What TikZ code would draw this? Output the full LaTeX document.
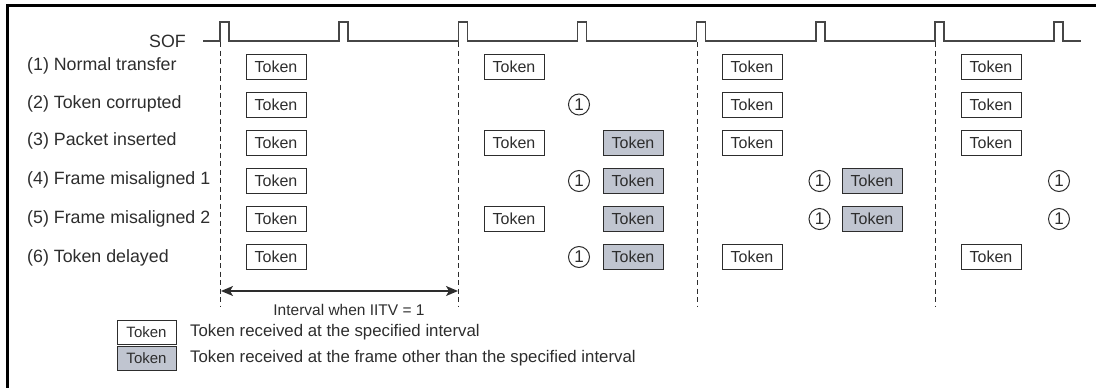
\documentclass[tikz,border=0pt]{standalone}
\usepackage{fontspec}
\setmainfont{Liberation Sans}
\usetikzlibrary{arrows.meta}
\definecolor{ink}{RGB}{45,45,45}
\definecolor{wave}{RGB}{70,70,70}
\definecolor{tokgray}{RGB}{192,197,208}
\tikzset{
  tok/.style={draw=ink, line width=1pt, minimum width=60pt, minimum height=25pt, inner sep=0pt, text=ink, font=\fontsize{16}{16}\selectfont},
  tokg/.style={tok, fill=tokgray},
  one/.style={draw=ink, line width=1pt, circle, minimum size=21pt, inner sep=0pt, text=ink, font=\fontsize{17}{17}\selectfont},
  rowlab/.style={anchor=west, text=ink, inner sep=0pt, font=\fontsize{17.8}{17.8}\selectfont},
  legtok/.style={draw=ink, line width=1pt, minimum width=59pt, minimum height=24pt, inner sep=0pt, text=ink, font=\fontsize{15}{15}\selectfont},
  legtext/.style={anchor=west, text=ink, inner sep=0pt, font=\fontsize{16.8}{16.8}\selectfont},
  divider/.style={draw=ink, line width=0.9pt, dash pattern=on 5pt off 3.5pt}
}
\begin{document}
\begin{tikzpicture}[x=1pt,y=-1pt]
\useasboundingbox (0,0) rectangle (1096,388);
% frame
\draw[line width=2.2pt] (7.5,388) -- (7.5,5.5) -- (1096,5.5);
% SOF waveform
\node[anchor=east, text=ink, inner sep=0pt, font=\fontsize{17.8}{17.8}\selectfont] (sof) at (186,41) {SOF};
\draw[wave, line width=1.3pt] (203,41)
  \foreach \p in {220,339,458.3,577.5,696.7,816,935,1054} { -- (\p,41) -- (\p,22) -- (\p+9,22) -- (\p+9,41) }
  -- (1081,41);
% dashed dividers
\foreach \x/\n in {220.5/d1,458.8/d2,697/d3,935.5/d4} {
  \coordinate (\n t) at (\x,42);
  \coordinate (\n b) at (\x,306);
  \draw[divider] (\n t) -- (\n b);
}
% row labels
\node[rowlab] (l1) at (27,66) {(1) Normal transfer};
\node[rowlab] (l2) at (27,104) {(2) Token corrupted};
\node[rowlab] (l3) at (27,141) {(3) Packet inserted};
\node[rowlab] (l4) at (27,180) {(4) Frame misaligned 1};
\node[rowlab] (l5) at (27,219) {(5) Frame misaligned 2};
\node[rowlab] (l6) at (27,258) {(6) Token delayed};
% row 1
\node[tok] (r1a) at (276,66.7) {Token};
\node[tok] (r1b) at (514,66.7) {Token};
\node[tok] (r1d) at (752,66.7) {Token};
\node[tok] (r1f) at (991,66.7) {Token};
% row 2
\node[tok] (r2a) at (276,105) {Token};
\node[one] (r2c) at (579,104.5) {1};
\node[tok] (r2d) at (752,105) {Token};
\node[tok] (r2f) at (991,105) {Token};
% row 3
\node[tok] (r3a) at (276,143) {Token};
\node[tok] (r3b) at (514,143) {Token};
\node[tokg] (r3c) at (633,143) {Token};
\node[tok] (r3d) at (752,143) {Token};
\node[tok] (r3f) at (991,143) {Token};
% row 4
\node[tok] (r4a) at (276,181) {Token};
\node[one] (r4o1) at (579,181) {1};
\node[tokg] (r4c) at (633,181) {Token};
\node[one] (r4o2) at (819.5,181) {1};
\node[tokg] (r4e) at (872,181) {Token};
\node[one] (r4o3) at (1059,181) {1};
% row 5
\node[tok] (r5a) at (276,219) {Token};
\node[tok] (r5b) at (514,219) {Token};
\node[tokg] (r5c) at (633,219) {Token};
\node[one] (r5o2) at (819.5,219) {1};
\node[tokg] (r5e) at (872,219) {Token};
\node[one] (r5o3) at (1059,219) {1};
% row 6
\node[tok] (r6a) at (276,257) {Token};
\node[one] (r6o1) at (579,257) {1};
\node[tokg] (r6c) at (633,257) {Token};
\node[tok] (r6d) at (752,257) {Token};
\node[tok] (r6f) at (991,257) {Token};
% interval arrow
\coordinate (arrL) at (221,291);
\coordinate (arrR) at (458,291);
\draw[ink, line width=1.4pt, {Stealth[length=12pt,width=10pt,inset=3pt]}-{Stealth[length=12pt,width=10pt,inset=3pt]}] (arrL) -- (arrR);
\node[text=ink, inner sep=0pt, font=\fontsize{15.5}{15.5}\selectfont] (ivl) at (349,310) {Interval when IITV = 1};
% legend
\node[legtok] (lg1) at (146.5,332) {Token};
\node[legtext] (lt1) at (190,332) {Token received at the specified interval};
\node[legtok, fill=tokgray] (lg2) at (146.5,358) {Token};
\node[legtext] (lt2) at (190,358) {Token received at the frame other than the specified interval};
\end{tikzpicture}
\end{document}
